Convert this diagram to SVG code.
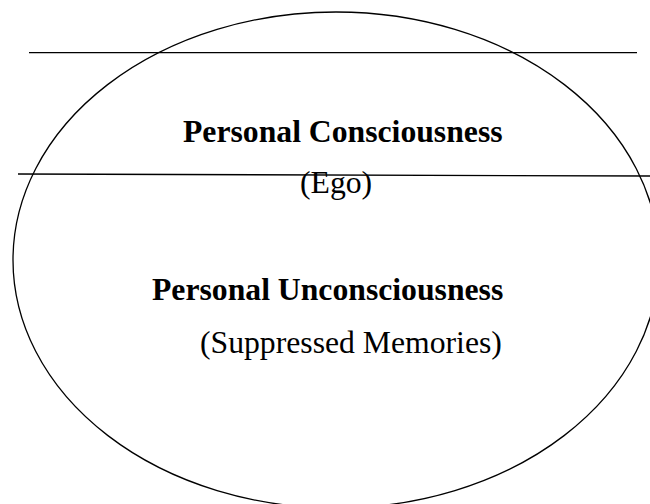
<svg xmlns="http://www.w3.org/2000/svg" width="650" height="504" viewBox="0 0 650 504">
<style>
.shape{fill:none;stroke:#000;stroke-width:1.3}
.b{font-family:"Liberation Serif","Times New Roman",serif;font-size:31.7px;font-weight:bold;fill:#000}
.r{font-family:"Liberation Serif","Times New Roman",serif;font-size:31.7px;fill:#000}
</style>
<rect width="650" height="504" fill="#fff"/>
<g id="psyche">
<ellipse class="shape" cx="336" cy="260" rx="323" ry="248"/>
</g>
<g id="connectors">
<line class="shape" x1="29" y1="52.7" x2="637" y2="52.7"/>
<line class="shape" x1="18" y1="174" x2="650" y2="176"/>
</g>
<g id="consciousness">
<text class="b" x="183" y="142">Personal Consciousness</text>
<text class="r" x="300" y="193">(Ego)</text>
</g>
<g id="unconsciousness">
<text class="b" x="152" y="300">Personal Unconsciousness</text>
<text class="r" x="200" y="353">(Suppressed Memories)</text>
</g>
</svg>
